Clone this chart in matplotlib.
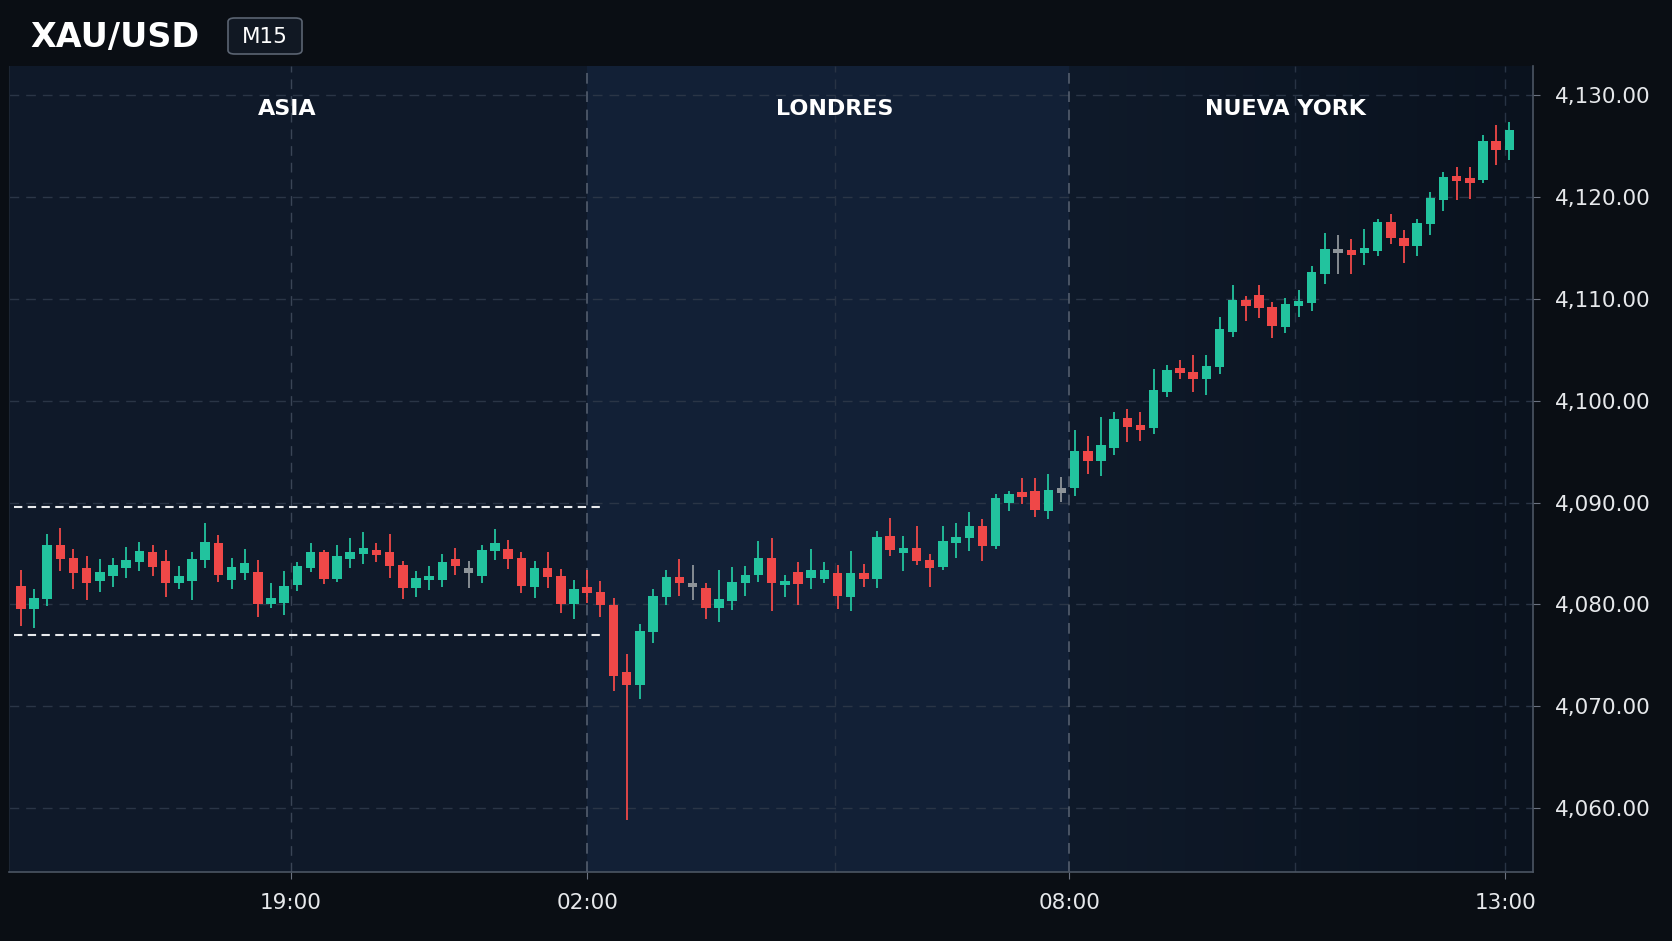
import numpy as np
import matplotlib.pyplot as plt
from matplotlib.patches import FancyBboxPatch
from matplotlib.colors import LinearSegmentedColormap

# datos de velas M15 (apertura, maximo, minimo, cierre)
opens = [4081.8, 4079.5, 4080.5, 4085.8, 4084.6, 4083.6, 4082.3, 4082.8, 4083.6, 4084.2,
         4085.1, 4084.3, 4082.1, 4082.3, 4084.4, 4086.0, 4082.4, 4083.1, 4083.2, 4080.0,
         4080.1, 4081.9, 4083.6, 4085.1, 4082.5, 4084.5, 4084.9, 4085.3, 4085.1, 4083.9,
         4081.6, 4082.4, 4082.4, 4084.5, 4083.3, 4082.8, 4085.2, 4085.4, 4084.6, 4081.7,
         4083.6, 4082.8, 4080.0, 4081.7, 4081.2, 4079.9, 4073.4, 4072.1, 4077.3, 4080.7,
         4082.7, 4081.9, 4081.6, 4079.6, 4080.3, 4082.1, 4082.9, 4084.6, 4082.0, 4083.2,
         4082.6, 4082.5, 4083.1, 4080.7, 4083.1, 4082.5, 4086.7, 4085.0, 4085.5, 4084.4,
         4083.7, 4086.0, 4086.5, 4087.7, 4085.7, 4090.0, 4091.0, 4091.1, 4089.2, 4091.2,
         4091.4, 4095.1, 4094.1, 4095.4, 4098.3, 4097.6, 4097.3, 4100.9, 4103.2, 4102.8,
         4102.1, 4103.3, 4106.8, 4109.9, 4110.4, 4109.2, 4107.2, 4109.3, 4109.6, 4112.5,
         4114.7, 4114.8, 4114.5, 4114.7, 4117.6, 4116.0, 4115.2, 4117.4, 4119.7, 4122.0,
         4121.9, 4121.7, 4125.5, 4124.6]
highs = [4083.4, 4081.5, 4086.9, 4087.5, 4085.4, 4084.7, 4084.5, 4084.6, 4085.6, 4086.1,
         4085.8, 4085.3, 4083.8, 4085.1, 4088.0, 4086.8, 4084.6, 4085.4, 4084.4, 4082.1,
         4083.3, 4084.2, 4086.0, 4085.3, 4085.8, 4086.5, 4087.1, 4086.0, 4086.9, 4084.3,
         4083.3, 4083.8, 4084.9, 4085.5, 4084.3, 4085.8, 4087.4, 4086.3, 4085.1, 4084.3,
         4085.1, 4083.5, 4082.4, 4083.4, 4082.3, 4080.6, 4075.1, 4078.1, 4081.5, 4083.4,
         4084.5, 4083.9, 4082.1, 4083.4, 4083.7, 4083.8, 4086.2, 4086.5, 4082.9, 4084.2,
         4085.4, 4084.2, 4083.9, 4085.2, 4084.0, 4087.2, 4088.5, 4086.7, 4087.7, 4084.9,
         4087.7, 4088.0, 4089.1, 4088.4, 4090.8, 4091.1, 4092.4, 4092.4, 4092.8, 4092.5,
         4097.1, 4096.5, 4098.4, 4098.9, 4099.2, 4098.9, 4103.1, 4103.5, 4104.0, 4104.5,
         4104.5, 4108.2, 4111.4, 4110.3, 4111.4, 4109.7, 4110.1, 4110.9, 4113.2, 4116.5,
         4116.3, 4115.9, 4116.9, 4117.9, 4118.3, 4116.8, 4117.9, 4120.5, 4122.5, 4123.0,
         4123.0, 4126.1, 4127.1, 4127.4]
lows = [4077.9, 4077.7, 4079.8, 4083.3, 4081.5, 4080.4, 4081.2, 4081.7, 4082.6, 4083.3,
        4082.8, 4080.7, 4081.5, 4080.4, 4083.6, 4082.2, 4081.5, 4082.4, 4078.8, 4079.6,
        4079.0, 4081.3, 4083.2, 4082.0, 4082.2, 4083.6, 4084.0, 4084.2, 4082.6, 4080.5,
        4080.7, 4081.4, 4081.7, 4082.9, 4081.6, 4082.1, 4084.4, 4083.5, 4081.1, 4080.6,
        4081.6, 4079.1, 4078.6, 4080.1, 4078.8, 4071.5, 4058.8, 4070.7, 4076.2, 4079.9,
        4080.8, 4080.4, 4078.6, 4078.3, 4079.4, 4080.8, 4082.2, 4079.3, 4080.7, 4079.9,
        4081.5, 4082.1, 4079.5, 4079.3, 4081.7, 4081.6, 4084.7, 4083.3, 4083.9, 4081.7,
        4083.4, 4084.6, 4085.2, 4084.3, 4085.4, 4089.2, 4089.9, 4088.6, 4088.4, 4090.1,
        4090.6, 4092.8, 4092.6, 4094.7, 4095.9, 4096.0, 4096.7, 4100.4, 4102.1, 4100.9,
        4100.6, 4102.6, 4106.3, 4107.8, 4108.1, 4106.2, 4106.7, 4108.2, 4108.8, 4111.5,
        4112.5, 4112.5, 4113.3, 4114.2, 4115.4, 4113.5, 4114.2, 4116.3, 4118.6, 4119.7,
        4119.8, 4121.4, 4123.2, 4123.7]
closes = [4079.5, 4080.6, 4085.8, 4084.5, 4083.1, 4082.1, 4083.2, 4083.9, 4084.4, 4085.2,
          4083.7, 4082.1, 4082.8, 4084.5, 4086.1, 4082.9, 4083.7, 4084.1, 4080.0, 4080.6,
          4081.8, 4083.8, 4085.1, 4082.5, 4084.7, 4085.1, 4085.5, 4084.9, 4083.8, 4081.6,
          4082.6, 4082.8, 4084.2, 4083.8, 4083.3, 4085.3, 4086.0, 4084.5, 4081.8, 4083.6,
          4082.7, 4080.0, 4081.5, 4081.1, 4079.9, 4073.0, 4072.1, 4077.4, 4080.8, 4082.7,
          4082.1, 4081.9, 4079.6, 4080.5, 4082.2, 4082.9, 4084.6, 4082.1, 4082.2, 4082.0,
          4083.4, 4083.4, 4080.8, 4083.1, 4082.5, 4086.6, 4085.3, 4085.5, 4084.3, 4083.6,
          4086.2, 4086.6, 4087.7, 4085.7, 4090.4, 4090.8, 4090.6, 4089.3, 4091.2, 4091.2,
          4095.1, 4094.1, 4095.7, 4098.2, 4097.4, 4097.2, 4101.1, 4103.0, 4102.8, 4102.1,
          4103.4, 4107.0, 4109.9, 4109.3, 4109.1, 4107.3, 4109.5, 4109.8, 4112.6, 4114.9,
          4114.7, 4114.3, 4115.0, 4117.6, 4116.0, 4115.2, 4117.5, 4119.9, 4122.0, 4121.7,
          4121.4, 4125.5, 4124.6, 4126.6]

time_labels = ['19:00', '02:00', '08:00', '13:00']
sessions = ['ASIA', 'LONDRES', 'NUEVA YORK']
price_ticks = [4060, 4070, 4080, 4090, 4100, 4110, 4120, 4130]
range_high = 4089.6
range_low = 4077.0

# posiciones (en indice de vela)
time_pos = [20.5, 43.0, 79.6, 112.7]
minor_pos = [61.8, 96.7]
session_pos = [20.2, 61.8, 96.0]
range_end = 44.2

GREEN = '#22c39e'
RED = '#ef4848'
GREY = '#8e9499'
TEXT = '#e6e8eb'
Y0, Y1 = 4053.7, 4132.9
X0, X1 = -0.93, 114.8

fig = plt.figure(figsize=(16.72, 9.41), dpi=100, facecolor='#0a0e14')
ax = fig.add_axes([0.0051, 0.0733, 0.9118, 0.8567])
ax.set_facecolor('#0f1929')
ax.set_xlim(X0, X1)
ax.set_ylim(Y0, Y1)

# fondos de sesiones
ax.axvspan(time_pos[1], time_pos[2], color='#122036', lw=0, zorder=0)
grad = np.linspace(0, 1, 256).reshape(1, -1)
cm = LinearSegmentedColormap.from_list('ny', ['#0f1a2a', '#0a121e'])
ax.imshow(grad, extent=[time_pos[2], X1, Y0, Y1], aspect='auto', cmap=cm, zorder=0)

# rejilla
for p in price_ticks:
    ax.axhline(p, color='#2a3546', lw=1, ls=(0, (7, 5)), zorder=1)
ax.axvline(time_pos[0], color='#3a4556', lw=1, ls=(0, (7, 5)), zorder=1)
for p in [time_pos[1], time_pos[2]]:
    ax.axvline(p, color='#596373', lw=1.1, ls=(0, (7, 5)), zorder=1)
for p in minor_pos + [time_pos[3]]:
    ax.axvline(p, color='#283344', lw=1, ls=(0, (7, 5)), zorder=1)

# rango asiatico
ax.hlines([range_high, range_low], -0.5, range_end, colors='#e8eaed', lw=1.5,
          linestyles=(0, (4, 2.6)), zorder=2)

# velas
x = np.arange(len(opens))
o = np.array(opens)
c = np.array(closes)
colors = np.where(c > o, GREEN, np.where(c < o, RED, GREY))
ax.vlines(x, lows, highs, colors=colors, lw=1.3, zorder=3)
body = np.abs(c - o)
body_h = np.maximum(body, 0.45)
bottom = np.minimum(o, c) - (body_h - body) / 2
ax.bar(x, body_h, bottom=bottom, width=0.72, color=colors, lw=0, zorder=4)

# etiquetas de sesion
for name, pos in zip(sessions, session_pos):
    ax.text(pos, 0.947, name, transform=ax.get_xaxis_transform(), color='white',
            fontsize=16, fontweight='bold', ha='center', va='center', zorder=5)

# ejes
ax.yaxis.tick_right()
ax.set_yticks(price_ticks)
ax.set_yticklabels([f'{p:,.2f}' for p in price_ticks])
ax.set_xticks(time_pos)
ax.set_xticklabels(time_labels)
ax.tick_params(axis='y', colors='#6b7280', labelcolor=TEXT, labelsize=15.5, length=5, pad=11)
ax.tick_params(axis='x', colors='#6b7280', labelcolor=TEXT, labelsize=15.5, length=5, pad=10)
ax.spines['top'].set_visible(False)
ax.spines['left'].set_color('#1c2533')
ax.spines['right'].set_color('#4b5563')
ax.spines['bottom'].set_color('#4b5563')
ax.spines['right'].set_linewidth(1.2)
ax.spines['bottom'].set_linewidth(1.2)

# encabezado
fig.text(0.018, 0.96, 'XAU/USD', color='white', fontsize=24, fontweight='bold',
         ha='left', va='center')
box = FancyBboxPatch((228 / 1672, 1 - 54 / 941), 74 / 1672, 36 / 941,
                     boxstyle='round,pad=0,rounding_size=0.004', transform=fig.transFigure,
                     facecolor='#111823', edgecolor='#5b6472', lw=1.2)
fig.patches.append(box)
fig.text(265 / 1672, 0.961, 'M15', color='white', fontsize=15.5, ha='center', va='center')

fig.savefig('out.png', dpi=100, facecolor=fig.get_facecolor())
